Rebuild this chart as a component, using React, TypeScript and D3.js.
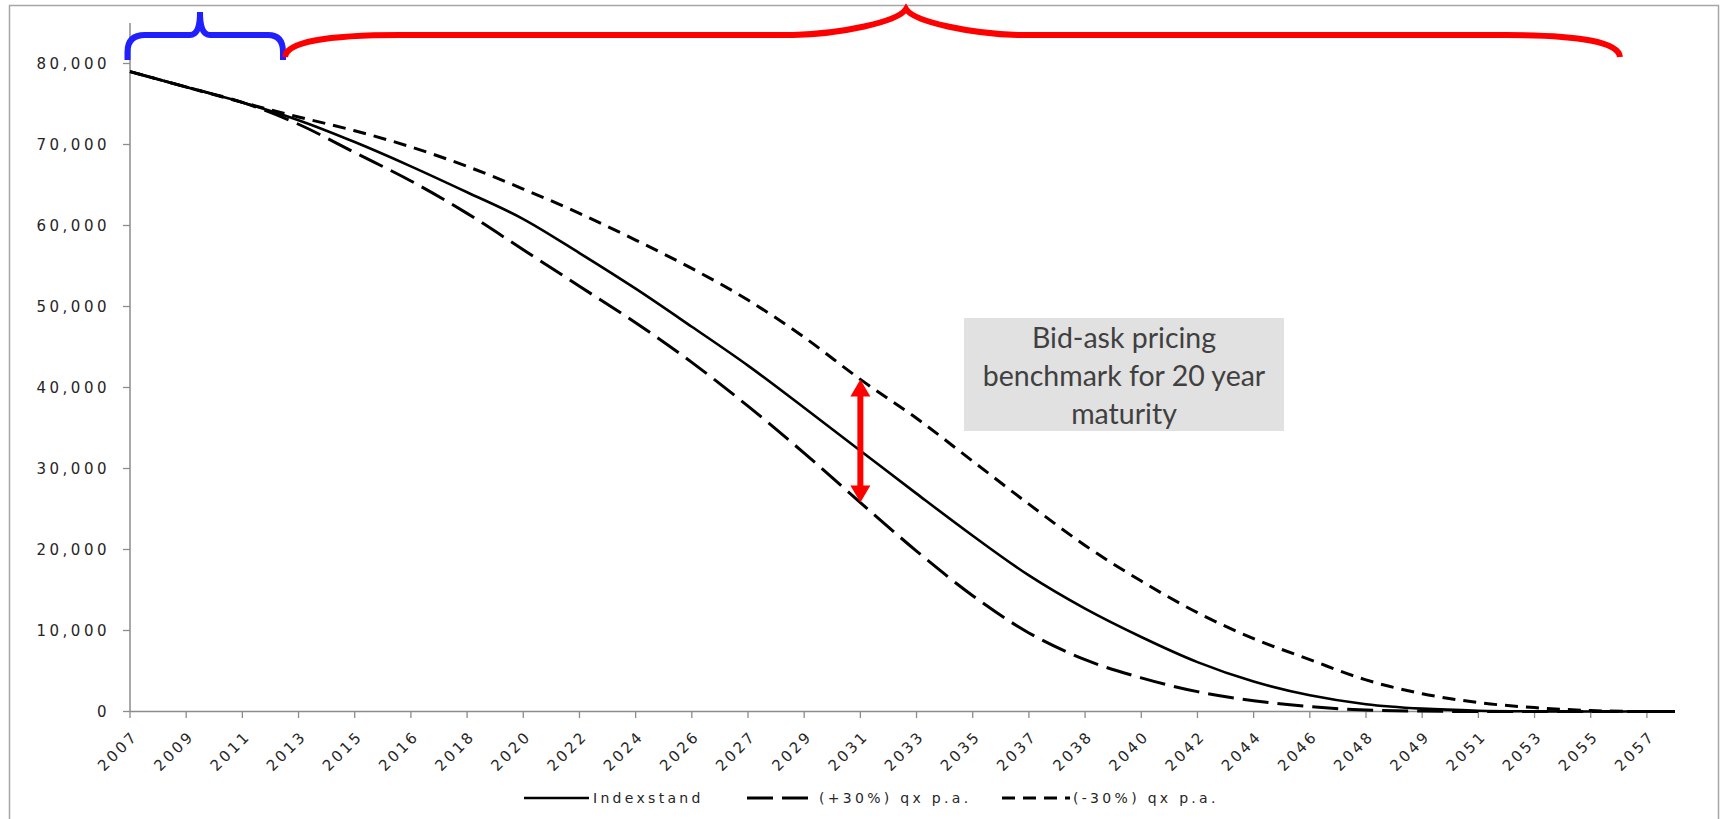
import React from "react";
import * as d3 from "d3";

// ---- data ----
const categories = [
  "2007", "2009", "2011", "2013", "2015", "2016", "2018", "2020", "2022", "2024",
  "2026", "2027", "2029", "2031", "2033", "2035", "2037", "2038", "2040", "2042",
  "2044", "2046", "2048", "2049", "2051", "2053", "2055", "2057",
];
// values at each labelled category, last value = end of series (half an interval after 2057)
const indexstand = [
  79000, 77100, 75200, 73000, 70300, 67300, 64100, 60800, 56600, 52200,
  47500, 42700, 37500, 32200, 26900, 21700, 16800, 12700, 9200, 6100,
  3700, 2000, 900, 350, 100, 20, 0, 0, 0,
];
const plus30 = [
  79000, 77100, 75200, 72500, 69000, 65500, 61500, 57000, 52500, 48000,
  43100, 37700, 31900, 25800, 19800, 14300, 9700, 6400, 4150, 2450,
  1330, 600, 180, 50, 0, 0, 0, 0, 0,
];
const minus30 = [
  79000, 77100, 75200, 73400, 71700, 69700, 67300, 64500, 61500, 58200,
  54700, 50800, 46200, 41000, 36200, 30900, 25600, 20500, 16100, 12200,
  9000, 6400, 3900, 2200, 1100, 480, 120, 0, 0,
];
const yTicks = [0, 10000, 20000, 30000, 40000, 50000, 60000, 70000, 80000];
const seriesNames = ["Indexstand", "(+30%) qx p.a.", "(-30%) qx p.a."];
const noteLines = ["Bid-ask pricing", "benchmark for 20 year", "maturity"];
const arrowCategory = "2031";

const W = 1725;
const H = 819;

export default function App() {
  const x = d3.scaleLinear().domain([0, categories.length - 0.5]).range([130, 1675]);
  const y = d3.scaleLinear().domain([0, 85000]).range([711.5, 23]);
  const xPos = (i: number) => (i < categories.length ? i : categories.length - 0.5);
  const line = d3
    .line<number>()
    .x((_, i) => x(xPos(i)))
    .y((d) => y(d))
    .curve(d3.curveMonotoneX);

  const fmt = d3.format(",");
  const axisFont = "'DejaVu Sans', Verdana, sans-serif";
  const txtColor = "#262626";
  const axisColor = "#8c8c8c";

  const ai = categories.indexOf(arrowCategory);
  const ax = x(ai);
  const aTop = y(minus30[ai]);
  const aBot = y(plus30[ai]);

  const styles = [
    { data: plus30, dash: "26,9", width: 3 },
    { data: minus30, dash: "13,8", width: 3 },
    { data: indexstand, dash: undefined as string | undefined, width: 2.6 },
  ];

  const legend = [
    { name: seriesNames[0], x1: 524, x2: 589, tx: 593, dash: undefined as string | undefined, w: 2.6 },
    { name: seriesNames[1], x1: 747, x2: 815, tx: 819, dash: "26,9", w: 3 },
    { name: seriesNames[2], x1: 1002, x2: 1070, tx: 1073, dash: "13,8", w: 3 },
  ];

  return (
    <svg
      width={W}
      height={H}
      style={{ position: "absolute", left: 0, top: 0, background: "#fff" }}
    >
      <rect x={0} y={0} width={W} height={H} fill="#fff" />
      {/* frame */}
      <rect x={9.5} y={5.5} width={1709} height={H + 20} fill="none" stroke="#a6a6a6" strokeWidth={1.5} />

      {/* y axis */}
      <line x1={130} x2={130} y1={23} y2={711.5} stroke={axisColor} strokeWidth={1.5} />
      {yTicks.map((t) => (
        <g key={t}>
          <line x1={123} x2={130} y1={y(t)} y2={y(t)} stroke={axisColor} strokeWidth={1.3} />
          <text
            x={110}
            y={y(t)}
            dy="0.36em"
            textAnchor="end"
            fontFamily={axisFont}
            fontSize={15}
            letterSpacing={3.5}
            fill={txtColor}
          >
            {fmt(t)}
          </text>
        </g>
      ))}

      {/* x axis */}
      <line x1={130} x2={x(categories.length - 0.5)} y1={711.5} y2={711.5} stroke={axisColor} strokeWidth={1.5} />
      {categories.map((c, i) => (
        <g key={c + i}>
          <line x1={x(i)} x2={x(i)} y1={711.5} y2={718} stroke={axisColor} strokeWidth={1.3} />
          <text
            transform={`translate(${x(i) + 9},${737}) rotate(-45)`}
            textAnchor="end"
            fontFamily={axisFont}
            fontSize={15}
            letterSpacing={2.8}
            fill={txtColor}
          >
            {c}
          </text>
        </g>
      ))}

      {/* series */}
      {styles.map((s, k) => (
        <path
          key={k}
          d={line(s.data) || ""}
          fill="none"
          stroke="#000"
          strokeWidth={s.width}
          strokeDasharray={s.dash}
        />
      ))}

      {/* legend */}
      {legend.map((l) => (
        <g key={l.name}>
          <line x1={l.x1} x2={l.x2} y1={798} y2={798} stroke="#000" strokeWidth={l.w} strokeDasharray={l.dash} />
          <text
            x={l.tx}
            y={798}
            dy="0.36em"
            fontFamily={axisFont}
            fontSize={14}
            letterSpacing={3.3}
            fill={txtColor}
          >
            {l.name}
          </text>
        </g>
      ))}

      {/* annotation box */}
      <rect x={964} y={318} width={320} height={113} fill="#e1e1e1" />
      {noteLines.map((t, i) => (
        <text
          key={t}
          x={1124}
          y={348 + i * 38}
          textAnchor="middle"
          fontFamily="Lato, 'Open Sans', sans-serif"
          fontSize={28.5}
          fill="#404040"
        >
          {t}
        </text>
      ))}

      {/* red double arrow */}
      <line x1={ax} x2={ax} y1={aTop + 14} y2={aBot - 14} stroke="#ff0000" strokeWidth={6} />
      <path d={`M${ax},${aTop} L${ax - 10},${aTop + 17} L${ax + 10},${aTop + 17} Z`} fill="#ff0000" />
      <path d={`M${ax},${aBot} L${ax - 10},${aBot - 17} L${ax + 10},${aBot - 17} Z`} fill="#ff0000" />

      {/* blue brace */}
      <path
        d="M127.5,60 L127.5,52 Q127.5,35 145,35 L190,35 Q200,35 200,12 Q200,35 210,35 L268,35 Q283,35 283,52 L283,60"
        fill="none"
        stroke="#2020ff"
        strokeWidth={6}
      />
      {/* red brace */}
      <path
        d="M285,57 Q287,35 400,35 L793,35 C840,34 898,22 906,9 C914,22 972,34 1020,35 L1506,35 Q1618,35 1620,57"
        fill="none"
        stroke="#ff0000"
        strokeWidth={6}
      />
    </svg>
  );
}
